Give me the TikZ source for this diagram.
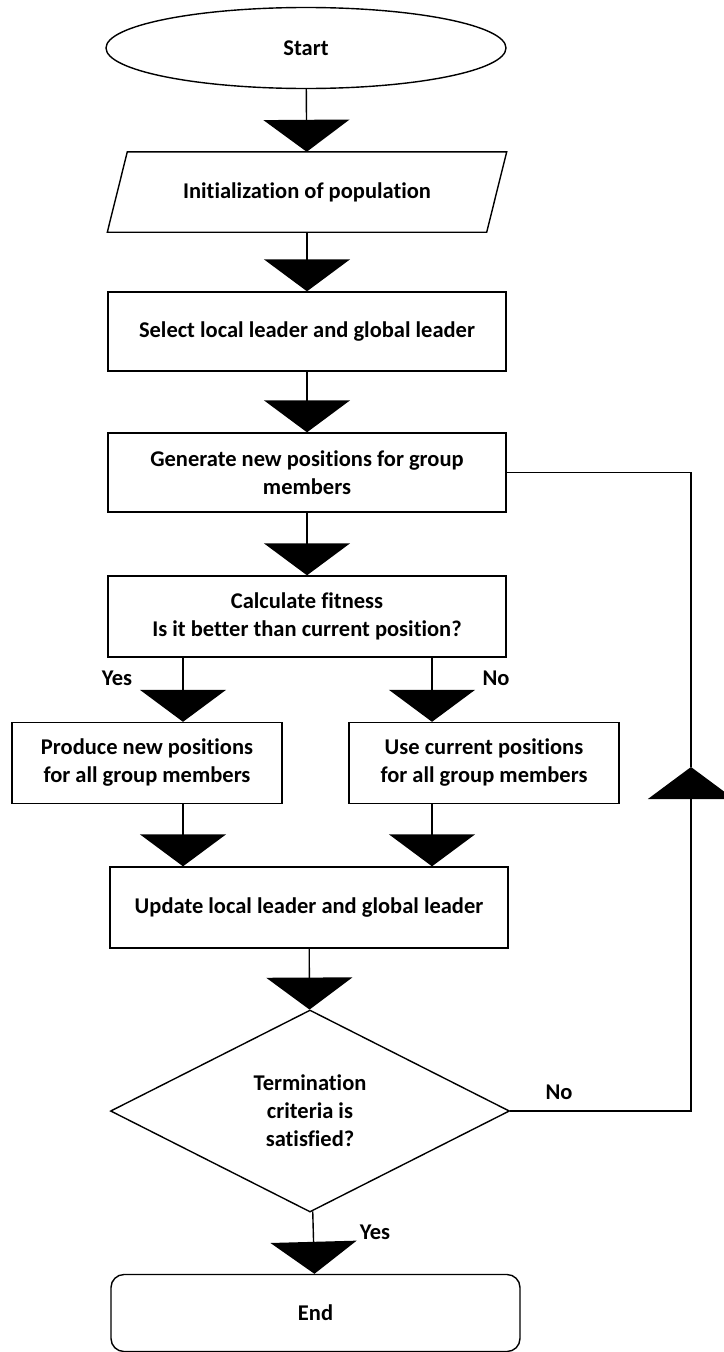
\documentclass[tikz,border=0pt]{standalone}
\usepackage{fontspec}
\setmainfont{Carlito}[Ligatures=NoCommon]
\usetikzlibrary{shapes.geometric,arrows.meta}

\begin{document}
\begin{tikzpicture}[x=1pt,y=-1pt,
  every node/.style={font=\bfseries\fontsize{22.5}{28}\selectfont, align=center, inner sep=0pt},
  box/.style={draw, rectangle, line width=1.4pt},
  flow/.style={line width=1.4pt, -{Triangle[width=86pt,length=32pt]}},
  link/.style={line width=1.4pt},
  lbl/.style={font=\bfseries\fontsize{22.5}{26}\selectfont}
]
\useasboundingbox (0,0) rectangle (723,1352);

% terminals and process steps
\node[draw, ellipse, line width=1.4pt, minimum width=400pt, minimum height=81pt] (start) at (306,48) {Start};

\node[minimum width=379pt, minimum height=80pt] (init) at (307,192) {Initialization of population};
\draw[line width=1.4pt] ([xshift=-10pt]init.south west) -- ([xshift=-10pt]init.south east)
  -- ([xshift=10pt]init.north east) -- ([xshift=10pt]init.north west) -- cycle;

\node[box, minimum width=398pt, minimum height=79pt] (select) at (307,331.5) {Select local leader and global leader};
\node[box, minimum width=398pt, minimum height=79pt] (gen) at (307,472.5) {Generate new positions for group\\members};
\node[box, minimum width=398pt, minimum height=81pt] (calc) at (307,616.5) {Calculate fitness\\Is it better than current position?};
\node[box, minimum width=270pt, minimum height=81pt] (prod) at (147,763) {Produce new positions\\for all group members};
\node[box, minimum width=270pt, minimum height=81pt] (use) at (484,763) {Use current positions\\for all group members};
\node[box, minimum width=398pt, minimum height=81pt] (upd) at (309,907.5) {Update local leader and global leader};
\node[draw, diamond, aspect=2, line width=1.4pt, minimum width=399pt, minimum height=202pt] (dec) at (310,1111) {Termination\\criteria is\\satisfied?};
\node[draw, rectangle, rounded corners=13pt, line width=1.4pt, minimum width=409pt, minimum height=77pt] (end) at (315.5,1313) {End};

% branch columns and loop-back route
\coordinate (yesx) at (183,0);
\coordinate (nox) at (432,0);
\coordinate (loopx) at (691,0);
\coordinate (loopup) at (691,767);

% main flow
\draw[flow] (start) -- (init);
\draw[flow] (init) -- (select);
\draw[flow] (select) -- (gen);
\draw[flow] (gen) -- (calc);
\draw[flow] (calc.south -| yesx) -- (prod.north -| yesx);
\draw[flow] (calc.south -| nox) -- (use.north -| nox);
\draw[flow] (prod.south -| yesx) -- (upd.north -| yesx);
\draw[flow] (use.south -| nox) -- (upd.north -| nox);
\draw[flow] (upd) -- (dec);
\draw[flow] (dec) -- (end);

% loop back when not terminated
\draw[flow] (dec.east) -- (dec.east -| loopx) -- (loopup);
\draw[link] (loopup) -- (gen.east -| loopx) -- (gen.east);

% branch labels
\node[lbl] (yes1) at (117,678) {Yes};
\node[lbl] (no1) at (496,678) {No};
\node[lbl] (no2) at (559,1092) {No};
\node[lbl] (yes2) at (375,1232) {Yes};
\end{tikzpicture}
\end{document}
